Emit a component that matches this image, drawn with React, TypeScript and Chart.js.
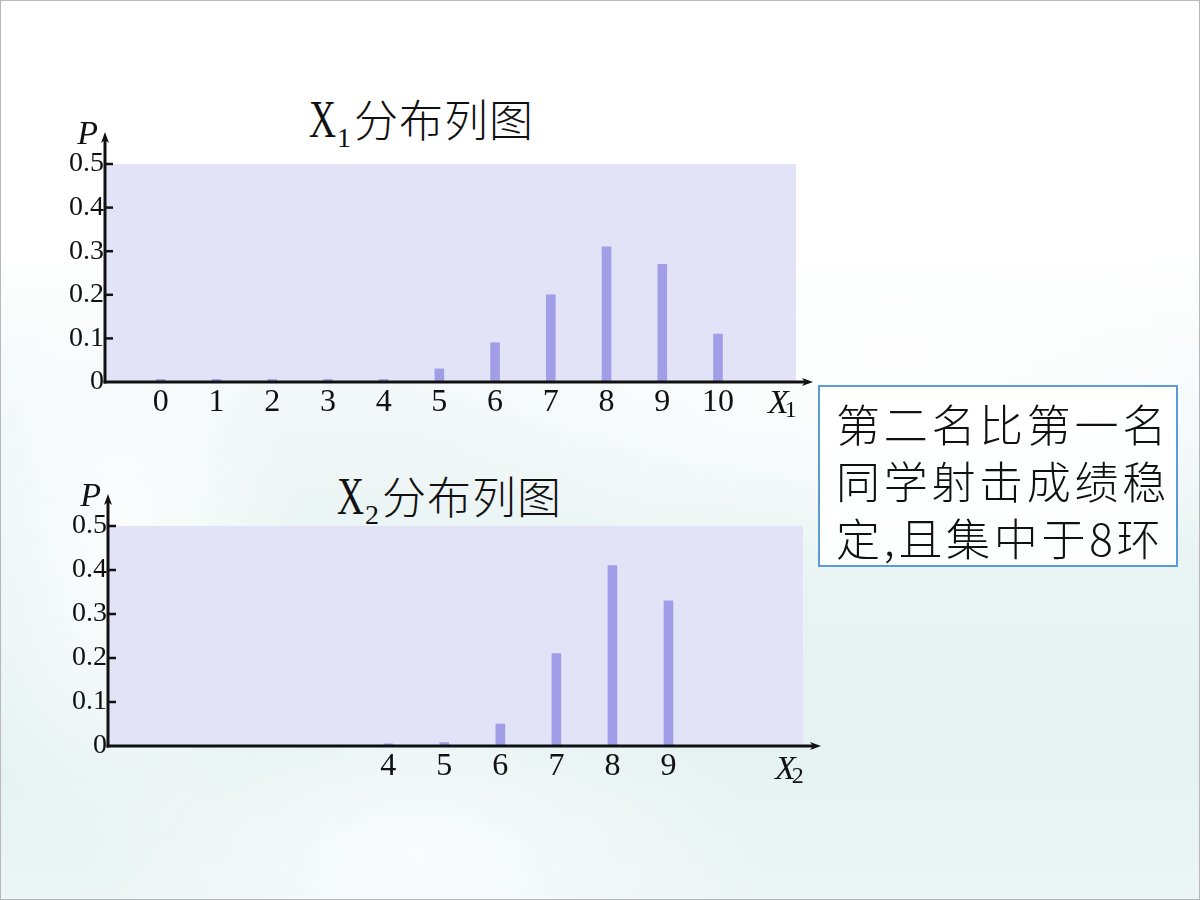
import React, { useEffect, useRef } from "react";
import { Chart, registerables } from "chart.js";

Chart.register(...registerables);

// ---------- data ----------
const x1Values = [0, 1, 2, 3, 4, 5, 6, 7, 8, 9, 10];
const p1Values = [0.006, 0.006, 0.006, 0.006, 0.006, 0.03, 0.09, 0.2, 0.31, 0.27, 0.11];
const x2Values = [4, 5, 6, 7, 8, 9];
const p2Values = [0.005, 0.008, 0.05, 0.21, 0.41, 0.33];
const yTickValues = [0, 0.1, 0.2, 0.3, 0.4, 0.5];
const yTickLabels = ["0", "0.1", "0.2", "0.3", "0.4", "0.5"];
const chartSymbols = ["X", "X"];
const chartSubs = ["1", "2"];
const chartTitleText = "分布列图";
const yAxisName = "P";
const noteLines = ["第二名比第一名", "同学射击成绩稳", "定,且集中于8环"];

// ---------- styles ----------
const PLOT_BG = "#e3e3f7";
const BAR_COLOR = "#a19ee7";
const AXIS_COLOR = "#111111";
const SERIF = "'Liberation Serif', 'DejaVu Serif', serif";
const CJK = "'Noto Sans CJK SC', 'Noto Sans', sans-serif";

const axesPlugin = {
  id: "axesArrows",
  beforeDraw(chart: any) {
    const { ctx, chartArea: a } = chart;
    ctx.save();
    ctx.fillStyle = PLOT_BG;
    ctx.fillRect(a.left, a.top, a.right - a.left, a.bottom - a.top);
    ctx.restore();
  },
  afterDatasetsDraw(chart: any, _args: any, opts: any) {
    const { ctx, chartArea: a } = chart;
    const yScale = chart.scales.y;
    const left = a.left;
    const bottom = a.bottom;
    const yTop = a.top - opts.yExtend;
    const xEnd = a.right + opts.xExtend;
    ctx.save();
    ctx.strokeStyle = AXIS_COLOR;
    ctx.fillStyle = AXIS_COLOR;
    ctx.lineWidth = 3;
    ctx.lineCap = "butt";
    // y axis
    ctx.beginPath();
    ctx.moveTo(left, bottom + 1.5);
    ctx.lineTo(left, yTop + 8);
    ctx.stroke();
    // x axis
    ctx.beginPath();
    ctx.moveTo(left - 1.5, bottom);
    ctx.lineTo(xEnd - 8, bottom);
    ctx.stroke();
    // arrow heads
    ctx.beginPath();
    ctx.moveTo(left, yTop);
    ctx.lineTo(left - 4, yTop + 11);
    ctx.lineTo(left, yTop + 8);
    ctx.lineTo(left + 4, yTop + 11);
    ctx.closePath();
    ctx.fill();
    ctx.beginPath();
    ctx.moveTo(xEnd, bottom);
    ctx.lineTo(xEnd - 11, bottom - 4);
    ctx.lineTo(xEnd - 8, bottom);
    ctx.lineTo(xEnd - 11, bottom + 4);
    ctx.closePath();
    ctx.fill();
    // inward tick marks
    ctx.lineWidth = 2.5;
    yTickValues.forEach((v) => {
      if (v === 0) return;
      const py = yScale.getPixelForValue(v);
      ctx.beginPath();
      ctx.moveTo(left, py);
      ctx.lineTo(left + 8, py);
      ctx.stroke();
    });
    // axis names
    ctx.font = `italic 34px ${SERIF}`;
    ctx.textAlign = "right";
    ctx.textBaseline = "alphabetic";
    ctx.fillText(yAxisName, left - 7, yTop + 12);
    ctx.textAlign = "left";
    const xNameLeft = a.right - 28;
    const base = bottom + opts.nameBaseline;
    ctx.fillText(opts.sym, xNameLeft, base);
    const w = ctx.measureText(opts.sym).width;
    ctx.font = `24px ${SERIF}`;
    ctx.fillText(opts.sub, xNameLeft + w - 4, base + 4);
    ctx.restore();
  },
};

type ChartProps = {
  xs: number[];
  ps: number[];
  top: number;
  padTop: number;
  padRight: number;
  yWidth: number;
  xHeight: number;
  sym: string;
  sub: string;
  xExtend: number;
  nameBaseline: number;
};

function DistChart(props: ChartProps) {
  const ref = useRef<HTMLCanvasElement | null>(null);
  useEffect(() => {
    if (!ref.current) return;
    const chart = new Chart(ref.current, {
      type: "bar",
      data: {
        datasets: [
          {
            data: props.xs.map((x, i) => ({ x, y: props.ps[i] })),
            backgroundColor: BAR_COLOR,
            borderWidth: 0,
            barThickness: 9,
          } as any,
        ],
      },
      options: {
        animation: false,
        responsive: false,
        events: [],
        layout: { padding: { top: props.padTop, right: props.padRight, left: 0, bottom: 0 } },
        plugins: {
          legend: { display: false },
          tooltip: { enabled: false },
          title: { display: false },
          axesArrows: {
            yExtend: 32,
            xExtend: props.xExtend,
            sym: props.sym,
            sub: props.sub,
            nameBaseline: props.nameBaseline,
          },
        } as any,
        scales: {
          x: {
            type: "linear",
            min: -1,
            max: 11.4,
            offset: false,
            grid: { display: false, drawTicks: false, offset: false },
            border: { display: false },
            afterBuildTicks: (scale: any) => {
              scale.ticks = props.xs.map((v) => ({ value: v }));
            },
            afterFit: (scale: any) => {
              scale.height = props.xHeight;
            },
            ticks: {
              autoSkip: false,
              maxRotation: 0,
              padding: 1,
              color: "#111",
              font: { family: SERIF, size: 32 },
              callback: (v: any) => String(v),
            },
          },
          y: {
            type: "linear",
            min: 0,
            max: 0.5,
            grid: { display: false, drawTicks: false },
            border: { display: false },
            afterBuildTicks: (scale: any) => {
              scale.ticks = yTickValues.map((v) => ({ value: v }));
            },
            afterFit: (scale: any) => {
              scale.width = props.yWidth;
            },
            ticks: {
              padding: 1,
              color: "#111",
              font: { family: SERIF, size: 28 },
              callback: (v: any) => {
                const i = yTickValues.findIndex((t) => Math.abs(t - Number(v)) < 1e-9);
                return i >= 0 ? yTickLabels[i] : "";
              },
            },
          },
        },
      } as any,
      plugins: [axesPlugin as any],
    });
    return () => chart.destroy();
  }, []);
  return (
    <canvas
      ref={ref}
      width={840}
      height={340}
      style={{ position: "absolute", left: 0, top: props.top, width: 840, height: 340 }}
    />
  );
}

function Title({ left, top, sym, sub }: { left: number; top: number; sym: string; sub: string }) {
  return (
    <div
      style={{
        position: "absolute",
        left,
        top,
        whiteSpace: "nowrap",
        lineHeight: "50px",
        height: 50,
        color: "#111",
      }}
    >
      <span
        style={{
          fontFamily: SERIF,
          fontSize: 52,
          display: "inline-block",
          width: 28,
          transform: "scaleX(0.72)",
          transformOrigin: "left center",
        }}
      >
        {sym}
      </span>
      <span style={{ fontFamily: SERIF, fontSize: 28, position: "relative", top: 10, marginRight: 3 }}>{sub}</span>
      <span style={{ fontFamily: CJK, fontSize: 44, fontWeight: 300, letterSpacing: 1 }}>{chartTitleText}</span>
    </div>
  );
}

export default function App() {
  return (
    <div
      style={{
        position: "absolute",
        left: 0,
        top: 0,
        width: 1200,
        height: 900,
        boxSizing: "border-box",
        border: "1px solid #b8b8b8",
        overflow: "hidden",
        background:
          "radial-gradient(ellipse 260px 420px at 10% 62%, rgba(255,255,255,0.85), rgba(255,255,255,0) 70%)," +
          "radial-gradient(ellipse 500px 260px at 35% 95%, rgba(255,255,255,0.7), rgba(255,255,255,0) 70%)," +
          "radial-gradient(ellipse 700px 300px at 75% 40%, rgba(255,255,255,0.9), rgba(255,255,255,0) 75%)," +
          "linear-gradient(180deg, #ffffff 0%, #ffffff 28%, #f2f8f8 45%, #e8f3f3 65%, #e6f2f2 85%, #ecf5f5 100%)",
      }}
    >
      <Title left={308} top={92} sym={chartSymbols[0]} sub={chartSubs[0]} />
      <Title left={336} top={469} sym={chartSymbols[1]} sub={chartSubs[1]} />
      <DistChart
        xs={x1Values}
        ps={p1Values}
        top={90}
        padTop={73}
        padRight={45}
        yWidth={104}
        xHeight={49}
        sym={chartSymbols[0]}
        sub={chartSubs[0]}
        xExtend={17}
        nameBaseline={31}
      />
      <DistChart
        xs={x2Values}
        ps={p2Values}
        top={460}
        padTop={65}
        padRight={38}
        yWidth={107}
        xHeight={55}
        sym={chartSymbols[1]}
        sub={chartSubs[1]}
        xExtend={18}
        nameBaseline={33}
      />
      <div
        style={{
          position: "absolute",
          left: 817,
          top: 384,
          width: 360,
          height: 182,
          boxSizing: "border-box",
          border: "2px solid #5b9bd8",
          background: "rgba(255,255,255,0.88)",
          paddingTop: 8,
          paddingLeft: 16,
          fontFamily: CJK,
          fontSize: 44,
          fontWeight: 300,
          letterSpacing: 3.7,
          lineHeight: "57px",
          color: "#111",
          whiteSpace: "nowrap",
        }}
      >
        {noteLines.map((l, i) => (
          <div key={i}>{l}</div>
        ))}
      </div>
    </div>
  );
}
